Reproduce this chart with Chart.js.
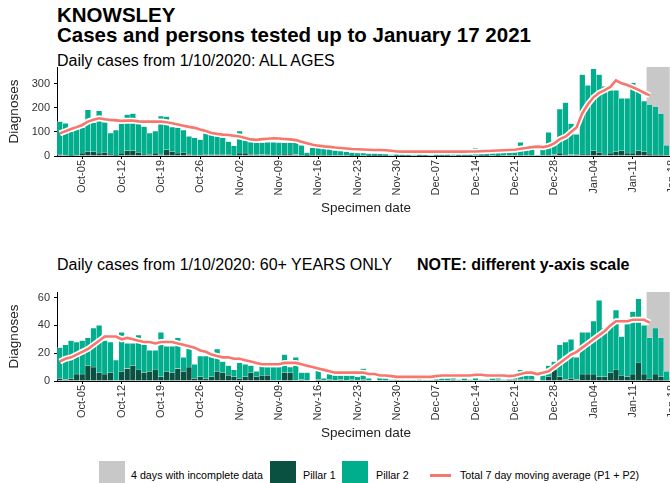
<!DOCTYPE html>
<html>
<head>
<meta charset="utf-8">
<script src="https://cdn.jsdelivr.net/npm/chart.js@4.4.1/dist/chart.umd.min.js"></script>
<style>
  html, body { margin: 0; padding: 0; background: #fff; }
  body { width: 670px; height: 483px; overflow: hidden; position: relative; font-family: "Liberation Sans", Arial, sans-serif; color: #000; }
  .txt { position: absolute; white-space: nowrap; line-height: 1; }
  .box { position: absolute; top: 461px; width: 26px; height: 26px; }
  .wrap { position: absolute; left: 0; width: 690px; }
</style>
</head>
<body>
<div class="txt" style="left:57px;top:5px;font-size:20.5px;font-weight:bold">KNOWSLEY</div>
<div class="txt" style="left:57px;top:25px;font-size:20.5px;font-weight:bold">Cases and persons tested up to January 17 2021</div>
<div class="txt" style="left:57px;top:52.5px;font-size:16px">Daily cases from 1/10/2020: ALL AGES</div>
<div class="txt" style="left:57px;top:257px;font-size:16px">Daily cases from 1/10/2020: 60+ YEARS ONLY</div>
<div class="txt" style="left:417px;top:257px;font-size:16px;font-weight:bold">NOTE: different y-axis scale</div>

<div class="wrap" style="top:60px;height:158px"><canvas id="chartAll"></canvas></div>
<div class="wrap" style="top:285px;height:158px"><canvas id="chart60"></canvas></div>

<!-- legenda -->
<div class="box" style="left:99px;background:#c8c8c8"></div>
<div class="txt" style="left:131px;top:469.5px;font-size:10.7px">4 days with incomplete data</div>
<div class="box" style="left:270px;background:#0b5142"></div>
<div class="txt" style="left:303px;top:469.5px;font-size:10.7px">Pillar 1</div>
<div class="box" style="left:342px;background:#00ad8c"></div>
<div class="txt" style="left:376px;top:469.5px;font-size:10.7px">Pillar 2</div>
<div style="position:absolute;left:430px;top:474px;width:21px;height:2.5px;background:#f8766d"></div>
<div class="txt" style="left:460px;top:469.5px;font-size:10.7px">Total 7 day moving average (P1 + P2)</div>

<script>
// -------------------- Dados --------------------
const tickLabels = ['Oct-05', 'Oct-12', 'Oct-19', 'Oct-26', 'Nov-02', 'Nov-09', 'Nov-16', 'Nov-23',
  'Nov-30', 'Dec-07', 'Dec-14', 'Dec-21', 'Dec-28', 'Jan-04', 'Jan-11', 'Jan-18'];
const incompleteDays = ['Jan-14', 'Jan-15', 'Jan-16', 'Jan-17'];

// todas as idades
const allPillar1 = [7, 4, 1, 4, 12, 18, 18, 12, 15, 8, 1, 12, 22, 22, 15, 8, 7, 12, 7, 26,
  18, 12, 15, 7, 4, 4, 7, 5, 7, 5, 5, 3, 12, 12, 7, 5, 6, 5, 4, 4,
  8, 8, 6, 3, 1, 3, 4, 3, 3, 2, 2, 2, 1, 1, 2, 1, 1, 1, 1, 0,
  1, 1, 1, 0, 1, 1, 0, 1, 1, 1, 2, 1, 1, 1, 2, 1, 1, 2, 1, 2,
  2, 2, 3, 2, 2, 0, 2, 3, 6, 12, 4, 6, 5, 8, 8, 22, 15, 4, 12, 18,
  22, 12, 12, 22, 18, 8, 4, 4, 0, null];
const allPillar2 = [136, 132, 104, 108, 106, 174, 120, 176, 125, 87, 107, 124, 150, 154, 118, 114, 88, 92, 159, 138,
  102, 106, 93, 75, 72, 64, 88, 83, 75, 71, 55, 39, 92, 53, 51, 51, 50, 52, 53, 52,
  47, 48, 49, 41, 13, 31, 32, 31, 27, 22, 18, 16, 13, 11, 10, 9, 9, 8, 7, 6,
  7, 7, 6, 7, 7, 5, 5, 7, 7, 8, 8, 8, 7, 6, 32, 13, 14, 15, 17, 18,
  20, 22, 54, 30, 26, 3, 30, 95, 56, 183, 218, 129, 85, 330, 286, 340, 323, 286, 261, 255,
  218, 228, 292, 255, 210, 206, 201, 172, 44, null];
const allAverage = [94, 103, 112, 120, 129, 143, 151, 157, 153, 150, 148, 146, 147, 147, 144, 143, 143, 143, 143, 140,
  136, 131, 126, 121, 117, 110, 104, 96, 92, 89, 87, 84, 81, 75, 69, 67, 70, 72, 74, 73,
  71, 69, 66, 59, 53, 47, 43, 40, 38, 35, 33, 31, 29, 28, 27, 26, 25, 25, 24, 22,
  19, 18, 18, 18, 18, 18, 18, 18, 18, 18, 18, 18, 18, 19, 19, 20, 21, 22, 23, 24,
  25, 26, 30, 33, 37, 39, 37, 42, 52, 70, 80, 100, 120, 178, 215, 244, 263, 274, 287, 314,
  302, 295, 286, 275, 263, 252, null, null, null, null];

// 60+ anos
const oldPillar1 = [2, 1, 2, 5, 5, 11, 10, 6, 5, 6, 0, 7, 9, 11, 8, 6, 7, 8, 3, 7,
  6, 9, 7, 10, 2, 3, 2, 3, 7, 6, 4, 3, 2, 3, 6, 3, 4, 4, 0, 0,
  6, 6, 0, 1, 0, 0, 1, 0, 1, 0, 1, 0, 1, 0, 1, 0, 0, 0, 0, 0,
  1, 0, 0, 0, 0, 0, 0, 1, 0, 0, 1, 0, 0, 0, 0, 0, 0, 0, 1, 0,
  1, 1, 1, 1, 1, 0, 0, 3, 8, 3, 1, 2, 1, 5, 5, 5, 3, 3, 6, 8,
  4, 3, 5, 13, 5, 2, 5, 3, 0, null];
const oldPillar2 = [22, 25, 27, 23, 24, 20, 28, 34, 24, 22, 15, 28, 18, 16, 25, 20, 15, 14, 32, 18,
  19, 22, 10, 14, 10, 15, 16, 15, 16, 8, 7, 5, 11, 9, 5, 4, 10, 6, 10, 10,
  13, 4, 17, 5, 6, 0, 7, 2, 4, 4, 3, 4, 3, 3, 8, 2, 0, 3, 2, 1,
  1, 1, 1, 1, 2, 1, 1, 1, 2, 2, 5, 1, 2, 1, 2, 1, 1, 2, 5, 1,
  1, 2, 7, 3, 3, 0, 4, 8, 6, 23, 27, 28, 16, 30, 30, 38, 55, 35, 35, 43,
  28, 38, 45, 46, 35, 29, 33, 28, 7, null];
const oldAverage = [14, 16, 17, 19, 21, 23, 26, 29, 32, 32, 32, 30, 31, 30, 29, 28, 28, 27, 28, 28,
  28, 27, 26, 25, 24, 22, 21, 19, 18, 17, 17, 16, 16, 15, 14, 13, 12, 12, 12, 12,
  13, 13, 13, 12, 11, 10, 9, 8, 7, 6, 6, 6, 6, 6, 6, 5, 5, 4, 4, 3.5,
  3, 3, 3, 3, 3, 3, 3, 3.5, 4, 4, 4, 4, 4, 4, 4.5, 4.5, 4, 4, 4, 4,
  3.5, 4, 5, 6, 6, 5, 6, 7, 10, 13, 16, 19, 21, 24, 27, 30, 33, 36, 40, 43,
  43, 43, 44, 44, 44, 42, null, null, null, null];

// dias de 1 out 2020 a 18 jan 2021
const meses = ['Jan', 'Feb', 'Mar', 'Apr', 'May', 'Jun', 'Jul', 'Aug', 'Sep', 'Oct', 'Nov', 'Dec'];
const dias = [];
for (let i = 0; i < allPillar1.length; i++) {
  const d = new Date(Date.UTC(2020, 9, 1 + i));
  dias.push(`${meses[d.getUTCMonth()]}-${String(d.getUTCDate()).padStart(2, '0')}`);
}

// -------------------- Cores --------------------
const corCinza = '#c8c8c8';
const corPillar1 = '#0b5142';
const corPillar2 = '#00ad8c';
const corMedia = '#f8766d';

Chart.defaults.font.family = "'Liberation Sans', Arial, sans-serif";
Chart.defaults.color = '#333';

// Monta um painel (barras empilhadas + média móvel)
function criarGrafico(id, pillar1, pillar2, media, yMax, passo) {
  const cinza = dias.map(d => incompleteDays.includes(d) ? yMax : null);
  const barra = { type: 'bar', barPercentage: 1, categoryPercentage: 1, grouped: false,
    borderWidth: { left: 0.5, right: 0.5, top: 0.5, bottom: 0 }, borderColor: 'rgba(255,255,255,0.6)', borderSkipped: false };

  return new Chart(document.getElementById(id), {
    data: {
      labels: dias,
      datasets: [
        { ...barra, label: '4 days with incomplete data', data: cinza, backgroundColor: corCinza, borderWidth: 0, stack: 'g', order: 4 },
        { ...barra, label: 'Pillar 1', data: pillar1, backgroundColor: corPillar1, stack: 'p', order: 3 },
        { ...barra, label: 'Pillar 2', data: pillar2, backgroundColor: corPillar2, stack: 'p', order: 3 },
        { type: 'line', label: 'halo', data: media, borderColor: '#fff', borderWidth: 6, pointRadius: 0, tension: 0, stack: 'h', order: 2 },
        { type: 'line', label: 'Total 7 day moving average (P1 + P2)', data: media, borderColor: corMedia, borderWidth: 2.6, pointRadius: 0, tension: 0, stack: 'm', order: 1 }
      ]
    },
    options: {
      responsive: true,
      maintainAspectRatio: false,
      animation: false,
      layout: { padding: { top: 7, right: 15, bottom: 0, left: 0 } },
      plugins: { legend: { display: false }, tooltip: { enabled: false } },
      scales: {
        x: {
          type: 'category', offset: true, stacked: true,
          grid: { display: true, offset: false, drawOnChartArea: false, drawTicks: true, tickLength: 3, color: '#000' },
          border: { display: true, color: '#000', width: 1 },
          ticks: {
            autoSkip: false, minRotation: 90, maxRotation: 90, padding: 1, font: { size: 11 },
            callback(v) { const l = this.getLabelForValue(v); return tickLabels.includes(l) ? l : null; }
          },
          title: { display: true, text: 'Specimen date', color: '#222', font: { size: 13.5 }, padding: { top: 0, bottom: 1.5 } },
          afterFit(s) { s.height = 62; s.paddingLeft = 0; s.paddingRight = 0; }
        },
        y: {
          stacked: true, min: 0, max: yMax,
          grid: { display: true, drawOnChartArea: false, drawTicks: true, tickLength: 3, color: '#000' },
          border: { display: true, color: '#000', width: 1 },
          ticks: { stepSize: passo, includeBounds: false, padding: 4, font: { size: 11 } },
          title: { display: true, text: 'Diagnoses', color: '#222', font: { size: 13.5 }, padding: { top: 6, bottom: 0 } },
          afterFit(s) { s.width = 57; s.paddingTop = 0; s.paddingBottom = 0; }
        }
      }
    }
  });
}

// -------------------- Inicialização --------------------
criarGrafico('chartAll', allPillar1, allPillar2, allAverage, 370, 100);
criarGrafico('chart60', oldPillar1, oldPillar2, oldAverage, 64, 10);
</script>
</body>
</html>
